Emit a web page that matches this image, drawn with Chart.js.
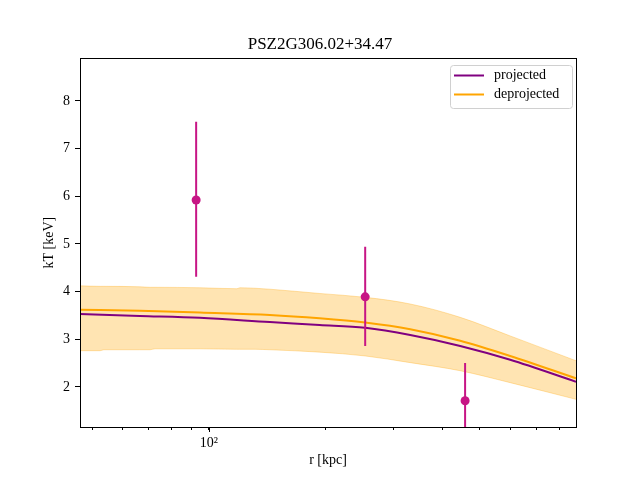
<!DOCTYPE html>
<html>
<head>
<meta charset="utf-8">
<script src="https://cdn.jsdelivr.net/npm/chart.js@4/dist/chart.umd.min.js"></script>
<style>
  html, body { margin: 0; padding: 0; background: #fff; }
</style>
</head>
<body>
<canvas id="chart-kt" width="640" height="480"></canvas>
<script>
// model curves: radius (kpc) and kT (keV)
const lineR = [46.5, 66.4, 94.8, 143.6, 193.0, 252.9, 330.6, 444.9, 598.7, 885];
const projectedKT = [3.53, 3.49, 3.45, 3.36, 3.30, 3.24, 3.09, 2.86, 2.57, 2.11];
const deprojectedKT = [3.62, 3.60, 3.56, 3.51, 3.44, 3.35, 3.21, 2.97, 2.65, 2.18];

// uncertainty band of the deprojected profile
const bandR = [46.5, 52.4, 53.6, 66.4, 70.5, 72.6, 94.8, 118.1, 120.2, 131.5, 143.6, 193.0, 252.9, 330.6, 444.9, 598.7, 885];
const bandLow = [2.76, 2.76, 2.78, 2.78, 2.78, 2.80, 2.80, 2.79, 2.79, 2.79, 2.78, 2.73, 2.65, 2.51, 2.34, 2.09, 1.74];
const bandHigh = [4.12, 4.11, 4.11, 4.10, 4.09, 4.09, 4.08, 4.06, 4.08, 4.07, 4.05, 3.96, 3.88, 3.74, 3.46, 3.07, 2.55];

// measured points with error bars
const pointR = [92.7, 253, 458];
const pointKT = [5.92, 3.89, 1.71];
const kTLow = [4.31, 2.86, 0.9];
const kTHigh = [7.56, 4.94, 2.50];

const xTickVals = [50, 60, 70, 80, 90, 100, 200, 300, 400, 500, 600, 700, 800];
const xMajorVals = [100];
const yTickVals = [2, 3, 4, 5, 6, 7, 8];

const titleText = 'PSZ2G306.02+34.47';
const legendItems = [
    { label: 'projected', color: '#800080' },
    { label: 'deprojected', color: '#ffa500' }
];

const serif = '"Liberation Serif", "DejaVu Serif", serif';
const pointColor = '#c71585';
const bandColor = 'rgba(255, 165, 0, 0.3)';

function toXY(xs, ys) {
    return xs.map((x, i) => ({ x: x, y: ys[i] }));
}

// frame round the plot area, plus longer marks for the major x ticks
const frame = {
    id: 'frame',
    afterDatasetsDraw(chart) {
        const a = chart.chartArea;
        const ctx = chart.ctx;
        const xs = chart.scales.x;
        ctx.save();
        ctx.strokeStyle = '#000';
        ctx.lineWidth = 1;
        ctx.strokeRect(Math.round(a.left) + 0.5, Math.round(a.top) + 0.5,
            Math.round(a.right - a.left), Math.round(a.bottom - a.top));
        xMajorVals.forEach(v => {
            const px = Math.round(xs.getPixelForValue(v)) + 0.5;
            ctx.beginPath();
            ctx.moveTo(px, a.bottom);
            ctx.lineTo(px, a.bottom + 5);
            ctx.stroke();
        });
        ctx.restore();
    }
};

// legend drawn inside the axes, upper right
const insideLegend = {
    id: 'insideLegend',
    afterDraw(chart) {
        const a = chart.chartArea;
        const ctx = chart.ctx;
        const w = 122, h = 43;
        const x = Math.round(a.right) - 4 - w;
        const y = Math.round(a.top) + 7;
        ctx.save();
        ctx.fillStyle = 'rgba(255,255,255,0.8)';
        ctx.strokeStyle = '#d0d0d0';
        ctx.lineWidth = 1;
        ctx.beginPath();
        ctx.roundRect(x + 0.5, y + 0.5, w, h, 3);
        ctx.fill();
        ctx.stroke();
        ctx.font = '14px ' + serif;
        ctx.textBaseline = 'middle';
        legendItems.forEach((item, i) => {
            const ly = y + 10.5 + i * 19;
            ctx.strokeStyle = item.color;
            ctx.lineWidth = 2;
            ctx.beginPath();
            ctx.moveTo(x + 4, ly);
            ctx.lineTo(x + 34, ly);
            ctx.stroke();
            ctx.fillStyle = '#000';
            ctx.fillText(item.label, x + 44, ly);
        });
        ctx.restore();
    }
};

const errorBars = pointR.map((r, i) => ({
    data: [{ x: r, y: kTLow[i] }, { x: r, y: kTHigh[i] }],
    showLine: true,
    borderColor: pointColor,
    borderWidth: 2,
    pointRadius: 0,
    order: 1
}));

const datasets = [
    {
        data: toXY(bandR, bandHigh),
        showLine: true,
        borderColor: bandColor,
        borderWidth: 1,
        backgroundColor: bandColor,
        pointRadius: 0,
        cubicInterpolationMode: 'monotone',
        fill: '+1',
        order: 5
    },
    {
        data: toXY(bandR, bandLow),
        showLine: true,
        borderColor: bandColor,
        borderWidth: 1,
        pointRadius: 0,
        cubicInterpolationMode: 'monotone',
        fill: false,
        order: 5
    },
    {
        data: toXY(lineR, deprojectedKT),
        showLine: true,
        borderColor: '#ffa500',
        borderWidth: 2,
        pointRadius: 0,
        cubicInterpolationMode: 'monotone',
        order: 3
    },
    {
        data: toXY(lineR, projectedKT),
        showLine: true,
        borderColor: '#800080',
        borderWidth: 2,
        pointRadius: 0,
        cubicInterpolationMode: 'monotone',
        order: 2
    },
    ...errorBars,
    {
        data: toXY(pointR, pointKT),
        showLine: false,
        pointRadius: 4.5,
        pointBackgroundColor: pointColor,
        pointBorderWidth: 0,
        order: 0
    }
];

new Chart(document.getElementById('chart-kt'), {
    type: 'scatter',
    data: { datasets: datasets },
    plugins: [frame, insideLegend],
    options: {
        responsive: false,
        animation: false,
        layout: { padding: 0 },
        plugins: {
            legend: { display: false },
            tooltip: { enabled: false },
            title: {
                display: true,
                text: titleText,
                color: '#000',
                font: { family: serif, size: 17, weight: 'normal' },
                padding: { top: 34, bottom: 4 }
            }
        },
        scales: {
            x: {
                type: 'logarithmic',
                min: 46.5,
                max: 885,
                afterBuildTicks: s => { s.ticks = xTickVals.map(v => ({ value: v, major: xMajorVals.includes(v) })); },
                afterFit: s => { s.height = 53; },
                ticks: {
                    callback: v => (xMajorVals.includes(v) ? '10²' : ''),
                    autoSkip: false,
                    maxRotation: 0,
                    color: '#000',
                    padding: 5,
                    font: { family: serif, size: 14 }
                },
                grid: { drawOnChartArea: false, tickLength: 3, color: '#000' },
                border: { color: '#000' },
                title: {
                    display: true,
                    text: 'r [kpc]',
                    color: '#000',
                    font: { family: serif, size: 14 },
                    padding: { top: 2, bottom: 11 }
                }
            },
            y: {
                min: 1.16,
                max: 8.89,
                afterBuildTicks: s => { s.ticks = yTickVals.map(v => ({ value: v })); },
                afterFit: s => { s.width = 80; },
                ticks: {
                    color: '#000',
                    padding: 5,
                    font: { family: serif, size: 14 }
                },
                grid: { drawOnChartArea: false, tickLength: 5, color: '#000' },
                border: { color: '#000' },
                title: {
                    display: true,
                    text: 'kT [keV]',
                    color: '#000',
                    font: { family: serif, size: 14 },
                    padding: { top: 41, bottom: 0 }
                }
            },
            // empty right-hand axis, only to keep the right margin
            yRight: {
                position: 'right',
                display: true,
                afterFit: s => { s.width = 64; },
                ticks: { display: false },
                grid: { display: false },
                border: { display: false }
            }
        }
    }
});
</script>
</body>
</html>
